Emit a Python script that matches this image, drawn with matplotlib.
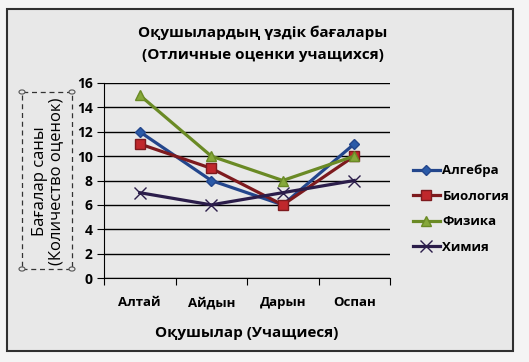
import numpy as np
import matplotlib.pyplot as plt
from matplotlib.patches import Rectangle, Circle

# data
students = ['Алтай', 'Айдын', 'Дарын', 'Оспан']
subjects = ['Алгебра', 'Биология', 'Физика', 'Химия']
algebra = [12, 8, 6, 11]
biology = [11, 9, 6, 10]
physics = [15, 10, 8, 10]
chemistry = [7, 6, 7, 8]

plt.rcParams['font.family'] = ['Open Sans', 'DejaVu Sans']
plt.rcParams['font.weight'] = 'bold'

W, H = 529, 362
fig = plt.figure(figsize=(W / 100, H / 100), dpi=100)
fig.patch.set_facecolor('#f4f4f4')

# chart area frame
fig.patches.append(Rectangle((7 / W, 1 - 351 / H), 506 / W, 342 / H,
                             transform=fig.transFigure, facecolor='#e8e8e8',
                             edgecolor='#303030', linewidth=1.5, zorder=-5))

ax = fig.add_axes([104 / W, 1 - 278 / H, 286 / W, 195 / H])
ax.set_facecolor('none')

x = np.arange(len(students))
styles = [
    (algebra, '#23468c', 'D', '#2a5aa8', 5),
    (biology, '#7d1a1e', 's', '#c0282c', 7),
    (physics, '#6a8a25', '^', '#86a83a', 7),
    (chemistry, '#2b1d4a', 'x', '#2b1d4a', 8),
]
for (vals, col, mk, mfc, ms), name in zip(styles, subjects):
    ax.plot(x, vals, color=col, linewidth=2.3, marker=mk, markersize=ms,
            markerfacecolor=mfc, markeredgecolor=col, markeredgewidth=1,
            label=name, zorder=3)

ax.set_ylim(0, 16)
ax.set_yticks(np.arange(0, 17, 2))
ax.set_xlim(-0.5, len(students) - 0.5)
ax.set_xticks(np.arange(-0.5, len(students), 1))
ax.set_xticklabels([])
ax.set_xticks(x, minor=True)
ax.set_xticklabels(students, minor=True)
ax.tick_params(axis='x', which='minor', length=0, pad=13, labelsize=9.5)
ax.tick_params(axis='x', which='major', length=5, direction='out')
ax.tick_params(axis='y', length=5, direction='out', labelsize=10, pad=3)
ax.grid(axis='y', color='black', linewidth=1)
for s in ['top', 'right']:
    ax.spines[s].set_visible(False)
ax.spines['left'].set_color('black')
ax.spines['bottom'].set_color('black')

ax.set_xlabel('Оқушылар (Учащиеся)', fontsize=11, fontweight='bold', labelpad=12)

fig.text(263 / W, 1 - 33 / H, 'Оқушылардың үздік бағалары', ha='center',
         va='center', fontsize=11, fontweight='bold')
fig.text(263 / W, 1 - 55 / H, '(Отличные оценки учащихся)', ha='center',
         va='center', fontsize=11, fontweight='bold')

# y label with selection box
fig.text(48 / W, 1 - 181 / H, 'Бағалар саны\n(Количество оценок)', ha='center',
         va='center', rotation=90, fontsize=12, fontweight='medium',
         linespacing=1.05)
x0, y0, x1, y1 = 22, 92, 72, 269
fig.patches.append(Rectangle((x0 / W, 1 - y1 / H), (x1 - x0) / W, (y1 - y0) / H,
                             transform=fig.transFigure, fill=False,
                             edgecolor='#333333', linestyle=(0, (4, 3)),
                             linewidth=0.9))
for cx, cy in [(x0, y0), (x1, y0), (x0, y1), (x1, y1)]:
    fig.patches.append(Circle((cx / W, 1 - cy / H), 3 / W,
                              transform=fig.transFigure, facecolor='#e8e8e8',
                              edgecolor='#555555', linewidth=0.8))

fig.legend(loc='center left', bbox_to_anchor=(408 / W, 1 - 209 / H),
           frameon=False, fontsize=9.5, handlelength=2.0, handletextpad=0.2,
           labelspacing=0.95, borderaxespad=0)

fig.savefig('out.png', dpi=100, facecolor=fig.get_facecolor())
